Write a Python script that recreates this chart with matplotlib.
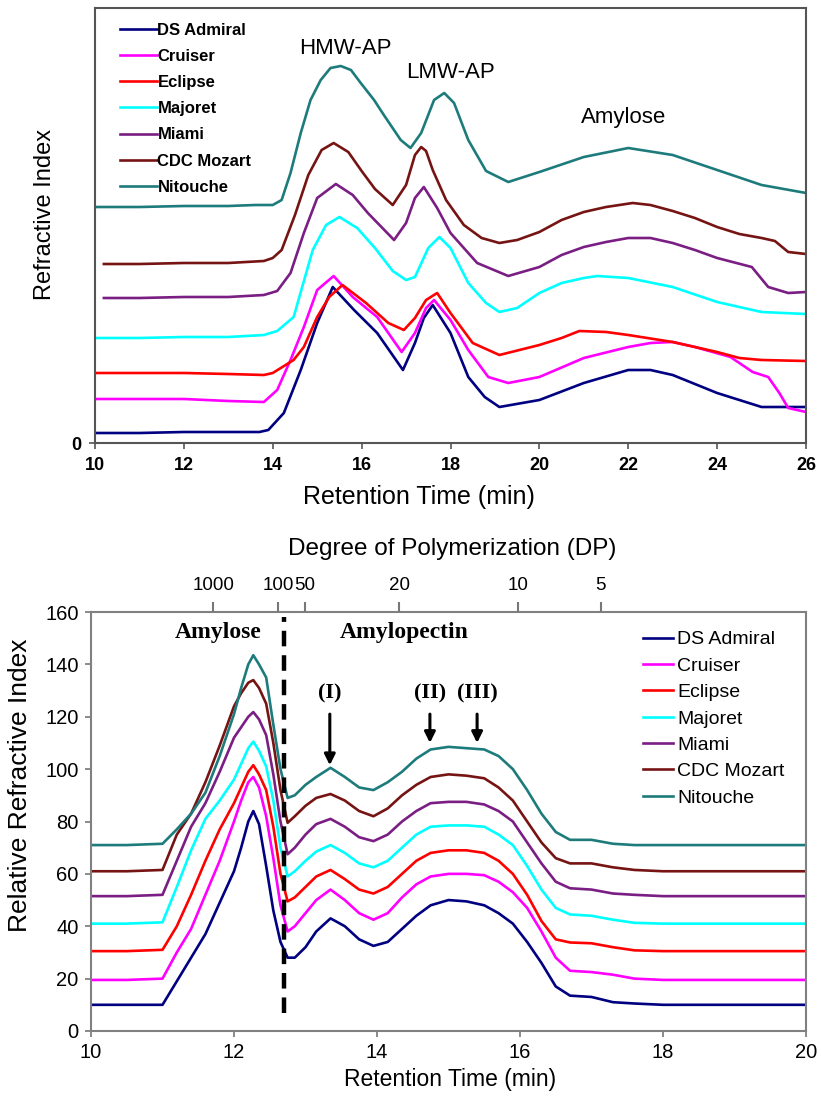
import matplotlib
matplotlib.use('Agg')
import matplotlib.pyplot as plt

plt.rcParams['font.family'] = ['Liberation Sans', 'DejaVu Sans']

varieties = ['DS Admiral', 'Cruiser', 'Eclipse', 'Majoret', 'Miami', 'CDC Mozart', 'Nitouche']
colors = ['#000080', '#ff00ff', '#ff0000', '#00ffff', '#7a1e84', '#761414', '#1e7b7b']

# ---- top panel: SEC of whole starch (heights in arbitrary RI units) ----
admiral_x = [10, 11, 12, 13, 13.7, 13.9, 14.25, 14.63, 15.0, 15.35, 15.83, 16.35, 16.93, 17.2, 17.4, 17.6,
             18.0, 18.4, 18.77, 19.1, 20, 21, 22, 22.5, 23, 24, 25, 26]
admiral_y = [10, 10, 11, 11, 11, 13, 30, 73, 120, 156, 133, 110, 73, 100, 125, 138,
             110, 66, 46, 36, 43, 60, 73, 73, 68, 50, 36, 36]

cruiser_x = [10, 11, 12, 13, 13.8, 14.1, 14.4, 14.7, 15.0, 15.37, 15.8, 16.35, 16.9, 17.2, 17.45, 17.63,
             18.0, 18.4, 18.85, 19.3, 20, 21, 22, 22.5, 23, 23.5, 24.3, 24.8, 25.15, 25.4, 25.6, 26]
cruiser_y = [44, 44, 44, 42, 41, 53, 83, 116, 153, 167, 146, 126, 91, 110, 135, 143,
             123, 93, 66, 60, 66, 85, 96, 100, 101, 96, 86, 71, 66, 50, 35, 31]

eclipse_x = [10, 11, 12, 13, 13.8, 14.0, 14.47, 14.7, 15.0, 15.27, 15.57, 16.1, 16.6, 16.95, 17.2, 17.45,
             17.7, 18.0, 18.5, 19.1, 20, 20.5, 20.9, 21.5, 22, 23, 24, 24.5, 25, 26]
eclipse_y = [70, 70, 70, 69, 68, 70, 83, 96, 126, 146, 158, 140, 120, 113, 125, 143,
             150, 130, 100, 88, 98, 105, 112, 111, 108, 101, 91, 85, 83, 82]

majoret_x = [10, 11, 12, 13, 13.8, 14.1, 14.47, 14.9, 15.2, 15.5, 15.9, 16.3, 16.7, 17.0, 17.2, 17.5,
             17.75, 18.0, 18.4, 18.8, 19.1, 19.5, 20, 20.5, 21, 21.3, 22, 23, 24, 25, 26]
majoret_y = [105, 105, 106, 106, 108, 112, 126, 193, 218, 226, 215, 195, 172, 163, 166, 195,
             206, 195, 160, 140, 131, 135, 150, 160, 165, 167, 165, 156, 141, 131, 129]

miami_x = [10.2, 11, 12, 13, 13.8, 14.1, 14.4, 14.7, 15.0, 15.42, 15.8, 16.14, 16.73, 17.0, 17.2, 17.4,
           17.7, 18.0, 18.6, 19.3, 20, 20.5, 21, 21.5, 22, 22.5, 23, 23.5, 24, 24.78, 25.15, 25.6, 26]
miami_y = [145, 145, 146, 146, 148, 152, 170, 210, 245, 259, 248, 230, 203, 220, 245, 256,
           235, 210, 180, 167, 176, 188, 196, 201, 205, 205, 200, 193, 185, 176, 156, 150, 151]

mozart_x = [10.2, 11, 12, 13, 13.8, 14.0, 14.2, 14.5, 14.8, 15.1, 15.37, 15.7, 16.0, 16.3, 16.7, 17.0,
            17.2, 17.34, 17.45, 17.6, 17.9, 18.3, 18.7, 19.1, 19.5, 20, 20.5, 21, 21.5, 22.1, 22.5, 23,
            23.5, 24, 24.5, 25, 25.3, 25.6, 26]
mozart_y = [179, 179, 180, 180, 182, 185, 193, 228, 268, 293, 300, 291, 272, 254, 238, 258,
            288, 296, 292, 273, 243, 218, 205, 200, 203, 211, 223, 231, 236, 240, 238, 232,
            225, 216, 209, 205, 202, 191, 189]

nitouche_x = [10, 11, 12, 13, 13.6, 14.0, 14.2, 14.4, 14.63, 14.85, 15.08, 15.3, 15.53, 15.76, 15.98, 16.28,
              16.5, 16.88, 17.1, 17.34, 17.63, 17.86, 18.08, 18.4, 18.8, 19.3, 20, 21, 22, 23, 24, 25, 26]
nitouche_y = [236, 236, 237, 237, 238, 238, 243, 270, 310, 343, 363, 375, 377, 373, 360, 343,
              328, 303, 295, 310, 343, 350, 340, 303, 272, 261, 271, 286, 295, 288, 273, 258, 250]

top_x = [admiral_x, cruiser_x, eclipse_x, majoret_x, miami_x, mozart_x, nitouche_x]
top_y = [admiral_y, cruiser_y, eclipse_y, majoret_y, miami_y, mozart_y, nitouche_y]

# ---- bottom panel: debranched starch, offset traces ----
rt = [10, 10.5, 11.0, 11.2, 11.4, 11.6, 11.8, 12.0, 12.1, 12.2, 12.27, 12.35, 12.45, 12.55, 12.65, 12.75,
      12.85, 13.0, 13.15, 13.35, 13.55, 13.75, 13.95, 14.15, 14.35, 14.55, 14.75, 15.0, 15.25, 15.5, 15.7,
      15.9, 16.1, 16.3, 16.5, 16.7, 17.0, 17.3, 17.6, 18.0, 18.5, 19.0, 19.5, 20.0]
admiral_dp = [10, 10, 10, 19, 28, 37, 49, 61, 70, 80, 84, 79, 63, 46, 34, 28,
              28, 32, 38, 43, 40, 35, 32.5, 34, 39, 44, 48, 50, 49.5, 48, 45,
              41, 34, 26, 17, 13.5, 13, 11, 10.5, 10, 10, 10, 10, 10]
cruiser_dp = [19.5, 19.5, 20, 30, 39, 52, 65, 80, 88, 95, 97, 93, 82, 66, 48, 38,
              40, 45, 50, 54, 50, 45, 42.5, 45, 51, 56, 59, 60, 60, 59.5, 57,
              53, 47, 38, 28, 23, 22.5, 21.5, 20, 19.5, 19.5, 19.5, 19.5, 19.5]
eclipse_dp = [30.5, 30.5, 31, 40, 52, 65, 77, 87, 93, 99, 101.5, 98, 92, 78, 60, 49.5,
              51, 55, 59, 61.5, 58, 54, 52.5, 55, 60, 65, 68, 69, 69, 68, 65,
              60, 52, 42, 35, 33.8, 33.5, 32, 30.8, 30.5, 30.5, 30.5, 30.5, 30.5]
majoret_dp = [41, 41, 41.5, 55, 69, 81, 88, 96, 102, 108, 110.5, 107, 101, 88, 70, 59,
              61, 65, 68.5, 71, 68, 64, 62.5, 65, 70, 75, 78, 78.5, 78.5, 78, 75,
              71, 63, 54, 47, 44.5, 44, 42.5, 41.3, 41, 41, 41, 41, 41]
miami_dp = [51.5, 51.5, 52, 65, 78, 87, 99, 112, 116, 120, 121.8, 119, 113, 98, 80, 67.5,
            70, 75, 79, 81, 78, 74, 72.5, 75, 80, 84, 87, 87.5, 87.5, 86.5, 84,
            80, 72, 64, 57, 54.5, 54, 52.5, 52, 51.5, 51.5, 51.5, 51.5, 51.5]
mozart_dp = [61, 61, 61.5, 75, 83, 95, 109, 124, 129, 133, 134, 131, 125, 110, 92, 79.5,
             82, 86, 89, 90.5, 88, 84, 82, 85, 90, 94, 97, 98, 97.5, 96.5, 93,
             88, 80, 72, 66, 64, 64, 62.5, 61.5, 61, 61, 61, 61, 61]
nitouche_dp = [71, 71, 71.5, 77, 83, 91, 105, 121, 131, 140, 143.5, 140, 135, 117, 100, 89,
               90, 94, 97, 100.5, 97, 93, 92, 95, 99, 104, 107.5, 108.5, 108, 107.5, 105,
               100, 92, 83, 76, 73, 73, 71.5, 71, 71, 71, 71, 71, 71]
bottom_y = [admiral_dp, cruiser_dp, eclipse_dp, majoret_dp, miami_dp, mozart_dp, nitouche_dp]

# degree of polymerization scale (retention time of each DP mark)
dp_labels = ['1000', '100', '50', '20', '10', '5']
dp_rt = [11.71, 12.62, 12.99, 14.31, 15.97, 17.13]

peak_labels = ['(I)', '(II)', '(III)']
peak_rt = [13.34, 14.74, 15.40]
peak_tip = [101.5, 110, 110]

W, H = 821, 1104
fig = plt.figure(figsize=(W / 100, H / 100), dpi=100)

# ================= top panel =================
ax = fig.add_axes([95 / W, 1 - 443 / H, (806 - 95) / W, (443 - 8) / H])
for xs, ys, c, name in zip(top_x, top_y, colors, varieties):
    ax.plot(xs, ys, color=c, lw=1.9, label=name)
ax.set_xlim(10, 26)
ax.set_ylim(0, 435)
ax.set_xticks(range(10, 27, 2))
ax.set_yticks([0])
narrow = ['Liberation Sans Narrow', 'Liberation Sans']
for lab in ax.get_xticklabels() + ax.get_yticklabels():
    lab.set_fontfamily(narrow)
    lab.set_fontweight('bold')
    lab.set_fontsize(13)
ax.tick_params(direction='out', length=4, width=1.2, color='#555555', pad=6)
for s in ax.spines.values():
    s.set_color('#555555')
    s.set_linewidth(1.5)
ax.set_xlabel('Retention Time (min)', fontsize=18)
ax.xaxis.set_label_coords(0.456, -0.097)
ax.set_ylabel('Refractive Index', fontsize=17)
ax.yaxis.set_label_coords(-0.055, 0.526)
ax.text(15.64, 395, 'HMW-AP', fontsize=16, ha='center', va='center')
ax.text(18.0, 371, 'LMW-AP', fontsize=16, ha='center', va='center')
ax.text(21.9, 325, 'Amylose', fontsize=16, ha='center', va='center')
ax.legend(loc='upper left', bbox_to_anchor=(0.035, 0.966), frameon=False,
          prop={'family': narrow, 'weight': 'bold', 'size': 12},
          handlelength=2.2, handletextpad=0.05, labelspacing=0.67,
          borderpad=0, borderaxespad=0)

# ================= bottom panel =================
bx = fig.add_axes([91 / W, 1 - 1031 / H, (806 - 91) / W, (1031 - 612) / H])
for ys, c, name in zip(bottom_y, colors, varieties):
    bx.plot(rt, ys, color=c, lw=1.9, label=name)
bx.set_xlim(10, 20)
bx.set_ylim(0, 160)
bx.set_xticks(range(10, 21, 2))
bx.set_yticks(range(0, 161, 20))
bx.tick_params(direction='out', length=4, width=1.2, color='#777777', labelsize=14.5, pad=5)
for s in bx.spines.values():
    s.set_color('#808080')
    s.set_linewidth(1.5)
bx.set_xlabel('Retention Time (min)', fontsize=16.5)
bx.xaxis.set_label_coords(0.502, -0.088)
bx.set_ylabel('Relative Refractive Index', fontsize=19)
bx.yaxis.set_label_coords(-0.082, 0.587)

bx.plot([12.70, 12.70], [7, 158], color='black', lw=3.2, dashes=(3.5, 2))

serif = ['Liberation Serif', 'DejaVu Serif']
bx.text(11.78, 152, 'Amylose', family=serif, fontweight='bold', fontsize=17, ha='center', va='center')
bx.text(14.38, 152, 'Amylopectin', family=serif, fontweight='bold', fontsize=17, ha='center', va='center')
for lab, xr, tip in zip(peak_labels, peak_rt, peak_tip):
    bx.annotate('', xy=(xr, tip), xytext=(xr, 121),
                arrowprops=dict(arrowstyle='-|>', color='black', lw=2.2, mutation_scale=16,
                                shrinkA=0, shrinkB=0))
    bx.text(xr, 129, lab, family=serif, fontweight='bold', fontsize=16, ha='center', va='center')

bx.legend(loc='upper left', bbox_to_anchor=(0.772, 0.955), frameon=False, fontsize=14,
          handlelength=1.55, handletextpad=0.2, labelspacing=0.45,
          borderpad=0, borderaxespad=0)

# top DP axis
tx = bx.twiny()
tx.set_xlim(bx.get_xlim())
tx.set_xticks(dp_rt)
tx.set_xticklabels(dp_labels)
tx.tick_params(direction='out', length=7, width=1.5, color='#777777', labelsize=13.5, pad=6)
for s in tx.spines.values():
    s.set_visible(False)
tx.set_xlabel('Degree of Polymerization (DP)', fontsize=17.5)
tx.xaxis.set_label_coords(0.505, 1.136)

fig.savefig('out.png', dpi=100)
